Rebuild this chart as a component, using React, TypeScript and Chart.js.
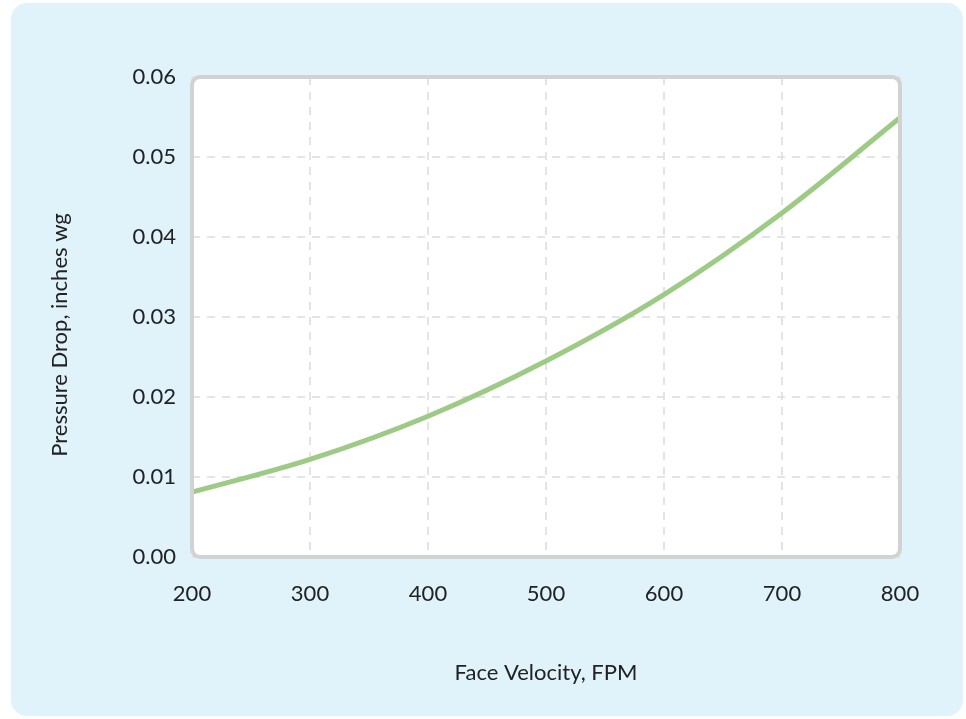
import React, { useEffect, useRef } from "react";
import { Chart, registerables } from "chart.js";

Chart.register(...registerables);

const velocities = [200, 300, 400, 500, 600, 700, 800];
const pressureDrop = [0.0081, 0.0122, 0.0176, 0.0245, 0.0328, 0.043, 0.0549];
const xTitle = "Face Velocity, FPM";
const yTitle = "Pressure Drop, inches wg";

const FONT = "Lato, 'Open Sans', sans-serif";

const plotFrame = {
  id: "plotFrame",
  beforeDraw(chart: any) {
    const { ctx, chartArea: a } = chart;
    ctx.save();
    ctx.fillStyle = "#ffffff";
    ctx.beginPath();
    ctx.roundRect(a.left, a.top, a.right - a.left, a.bottom - a.top, 8);
    ctx.fill();
    ctx.restore();
  },
  afterDraw(chart: any) {
    const { ctx, chartArea: a } = chart;
    ctx.save();
    ctx.strokeStyle = "#D2D2D2";
    ctx.lineWidth = 4;
    ctx.beginPath();
    ctx.roundRect(a.left, a.top, a.right - a.left, a.bottom - a.top, 8);
    ctx.stroke();
    // y-axis title
    ctx.translate(49, (a.top + a.bottom) / 2 + 18);
    ctx.rotate(-Math.PI / 2);
    ctx.fillStyle = "#222";
    ctx.font = `22px ${FONT}`;
    ctx.textAlign = "center";
    ctx.textBaseline = "middle";
    ctx.fillText(yTitle, 0, 0);
    ctx.restore();
  },
};

export default function App() {
  const ref = useRef<HTMLCanvasElement>(null);
  useEffect(() => {
    if (!ref.current) return;
    const chart = new Chart(ref.current, {
      type: "line",
      data: {
        datasets: [
          {
            data: velocities.map((v, i) => ({ x: v, y: pressureDrop[i] })),
            borderColor: "#9DCB85",
            borderWidth: 5,
            pointRadius: 0,
            cubicInterpolationMode: "monotone",
            fill: false,
          },
        ],
      },
      options: {
        animation: false,
        responsive: true,
        maintainAspectRatio: false,
        layout: { padding: { top: 74, right: 63, left: 0, bottom: 0 } },
        plugins: { legend: { display: false }, tooltip: { enabled: false } },
        scales: {
          x: {
            type: "linear",
            min: 200,
            max: 800,
            ticks: { stepSize: 100, padding: 24, color: "#222", font: { family: FONT, size: 22 } },
            grid: { color: "#E4E4E4", lineWidth: 2, drawTicks: false },
            border: { display: false, dash: [8, 7] },
            title: { display: true, text: xTitle, color: "#222", font: { family: FONT, size: 22 }, padding: { top: 0, bottom: 30 } },
            afterFit(scale: any) { scale.height = 159; },
          },
          y: {
            min: 0,
            max: 0.06,
            ticks: {
              stepSize: 0.01,
              padding: 16,
              color: "#222",
              font: { family: FONT, size: 22 },
              callback: (v: any) => Number(v).toFixed(2),
            },
            grid: { color: "#E4E4E4", lineWidth: 2, drawTicks: false },
            border: { display: false, dash: [8, 7] },
            afterFit(scale: any) { scale.width = 181; },
          },
        },
      },
      plugins: [plotFrame],
    } as any);
    return () => chart.destroy();
  }, []);
  return (
    <div
      style={{
        position: "fixed",
        left: 11,
        top: 3,
        width: 952,
        height: 713,
        background: "#E0F2FA",
        borderRadius: 16,
      }}
    >
      <canvas ref={ref} />
    </div>
  );
}
